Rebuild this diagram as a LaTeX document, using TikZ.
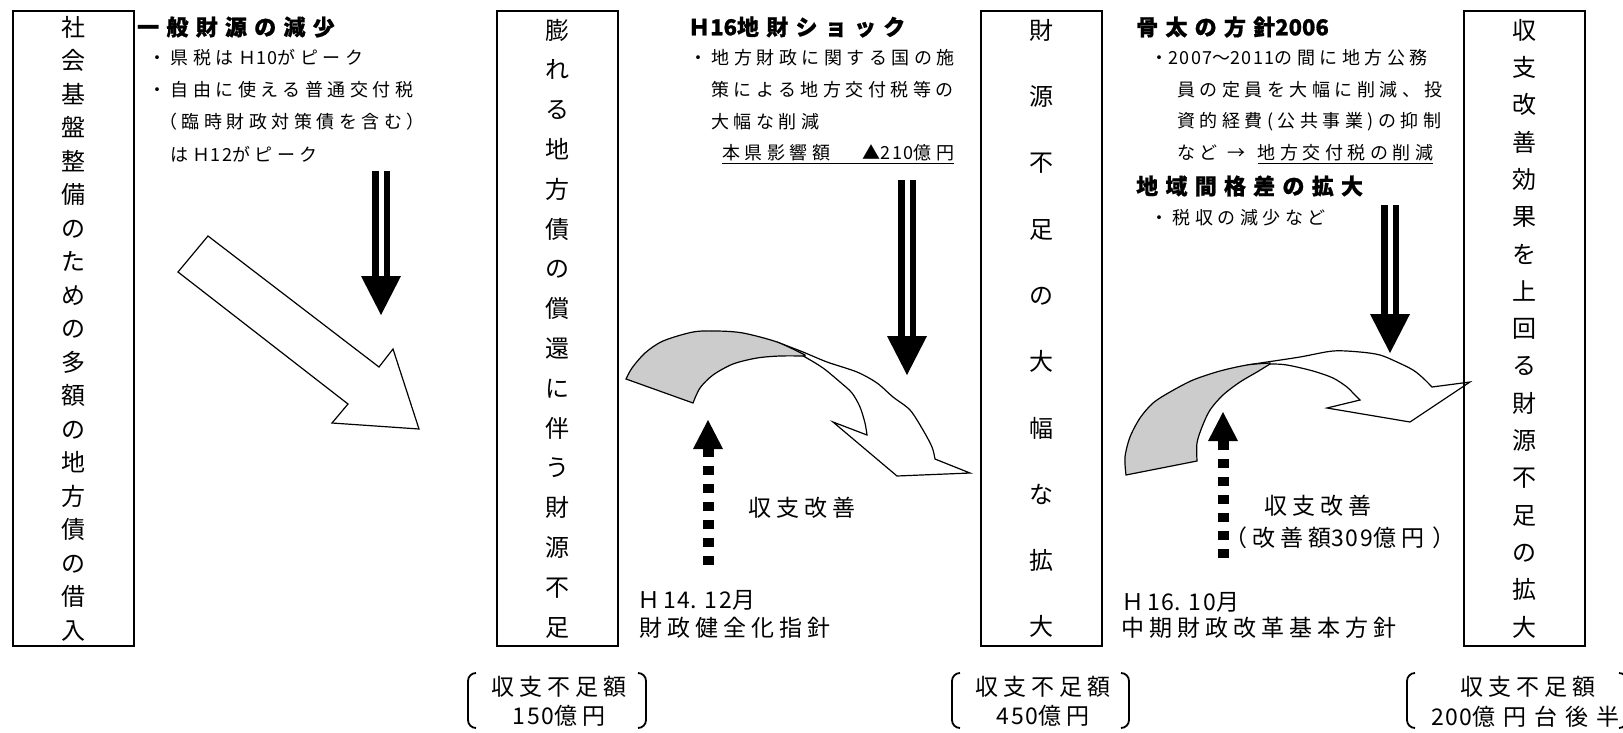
\documentclass[tikz,border=0pt]{standalone}
\usepackage{fontspec}
\setmainfont{Noto Sans CJK JP}
\newcommand\bodyf{\fontsize{18}{22}\selectfont\addfontfeature{LetterSpace=25}}
\newcommand\headf{\fontsize{22}{26}\selectfont\bfseries\addfontfeature{LetterSpace=33,FakeBold=0.8}}
\newcommand\labf{\fontsize{23}{28}\selectfont\addfontfeature{LetterSpace=22}}
\newcommand\labwf{\fontsize{23}{28}\selectfont\addfontfeature{LetterSpace=35}}
\newcommand\dg[1]{{\addfontfeature{LetterSpace=0}#1}}
\newcommand\dgl[1]{{\addfontfeature{LetterSpace=8}#1}}
\newcommand\myul[1]{\setbox0\hbox{#1}\rlap{\rule[-5pt]{\wd0}{1.5pt}}\box0}
\newcommand\dblarrow[3]{%
  \fill (#1-9.2,#2) rectangle (#1-2.5,#3-38);
  \fill (#1+2.5,#2) rectangle (#1+9.2,#3-38);
  \fill (#1-20,#3-39) -- (#1+20,#3-39) -- (#1,#3) -- cycle;}
\newcommand\brL[1]{\draw[bracket] (#1+8,673) -- (#1,673) -- (#1,728) -- (#1+8,728);}
\newcommand\brR[1]{\draw[bracket] (#1-8,673) -- (#1,673) -- (#1,728) -- (#1-8,728);}
\begin{document}
\begin{tikzpicture}[x=1pt,y=-1pt,
  vbox/.style={draw, line width=2pt, minimum width=121pt, minimum height=635pt,
    inner sep=0pt, align=center, anchor=north west},
  txt/.style={anchor=west, inner sep=0pt, font=\bodyf},
  hd/.style={anchor=west, inner sep=0pt, font=\headf},
  lab/.style={anchor=west, inner sep=0pt, font=\labf},
  hollow/.style={draw, fill=white, line width=1.2pt, line join=miter},
  band/.style={draw, fill=black!20, line width=1.2pt},
  dots/.style={line width=11pt, dash pattern=on 9pt off 9pt},
  bracket/.style={line width=1.8pt, rounded corners=8pt}]
\useasboundingbox (0,0) rectangle (1623,732);

% ---- section 1 hollow arrow
\draw[hollow] (208,236) -- (178,272) -- (348,404) -- (332,423) -- (419,429) -- (393,349) -- (379,367) -- cycle;

% ---- section 2 curved arrow
\draw[hollow] plot[smooth] coordinates {(777,342) (803,352) (827,362) (857,372) (877,383) (893,397) (910,410) (923,430) (932,447) (935,459)}
  -- (970,473) -- (897,476) -- (833,422) -- (867,435)
  -- plot[smooth] coordinates {(867,435) (865,423) (860,407) (852,393) (840,382) (823,368) (805,357) (777,342)} -- cycle;
\draw[band] plot[smooth] coordinates {(626,379) (632,368) (645,353) (663,341) (693,332) (717,331) (743,333) (777,342) (805,355)}
  -- plot[smooth] coordinates {(805,356) (780,356) (757,358) (733,364) (713,375) (700,388) (693,403)} -- cycle;

% ---- section 3 curved arrow
\draw[hollow] plot[smooth] coordinates {(1247,365) (1267,362) (1300,357) (1333,351) (1360,352) (1380,355) (1397,362) (1413,370) (1423,378) (1432,387)}
  -- (1470,382) -- (1410,422) -- (1327,408) -- (1360,400)
  -- plot[smooth] coordinates {(1360,400) (1353,393) (1347,387) (1333,378) (1313,371) (1287,365) (1270,364) (1247,365)} -- cycle;
\draw[band] plot[smooth] coordinates {(1126,475) (1125,457) (1130,437) (1140,418) (1153,403) (1170,392) (1193,380) (1220,371) (1247,365) (1270,363)}
  -- plot[smooth] coordinates {(1270,364) (1257,372) (1240,382) (1223,395) (1210,410) (1202,427) (1197,443) (1197,461)} -- cycle;

% ---- double arrows
\dblarrow{381}{171}{315}
\dblarrow{907}{180}{375}
\dblarrow{1390}{205}{353}

% ---- dotted arrows
\coordinate (p1s) at (708,565); \coordinate (p1e) at (708,448);
\draw[dots] (p1s) -- (p1e);
\fill (693,449) -- (723,449) -- (708,420) -- cycle;
\coordinate (p2s) at (1223,558); \coordinate (p2e) at (1223,440);
\draw[dots] (p2s) -- (p2e);
\fill (1208,441) -- (1238,441) -- (1223,412) -- cycle;

% ---- boxes
\node[vbox, font=\fontsize{24}{33.5}\selectfont] (B1) at (12,10) {社\\会\\基\\盤\\整\\備\\の\\た\\め\\の\\多\\額\\の\\地\\方\\債\\の\\借\\入};
\node[vbox, font=\fontsize{24}{39.8}\selectfont] (B2) at (496,10) {膨\\れ\\る\\地\\方\\債\\の\\償\\還\\に\\伴\\う\\財\\源\\不\\足};
\node[vbox, font=\fontsize{24}{66.3}\selectfont] (B3) at (980,10) {財\\源\\不\\足\\の\\大\\幅\\な\\拡\\大};
\node[vbox, font=\fontsize{24}{37.3}\selectfont] (B4) at (1463,10) {収\\支\\改\\善\\効\\果\\を\\上\\回\\る\\財\\源\\不\\足\\の\\拡\\大};

% ---- section 1 text
\node[hd] (h1) at (137,27) {一般財源の減少};
\node[txt] (s1a) at (148,58) {・県税はＨ\dgl{10}がピーク};
\node[txt] (s1b) at (148,90) {・自由に使える普通交付税};
\node[txt] (s1c) at (159,122) {（臨時財政対策債を含む）};
\node[txt] (s1d) at (170,154) {はＨ\dgl{12}がピーク};

% ---- section 2 text
\node[hd] (h2) at (688,27) {Ｈ\dg{16}地財ショック};
\node[txt] (s2a) at (689,58) {・地方財政に関する国の施};
\node[txt] (s2b) at (711,90) {策による地方交付税等の};
\node[txt] (s2c) at (711,122) {大幅な削減};
\node[txt] (s2d) at (722,154) {\myul{本県影響額　\hspace{10pt}▲\dgl{210}億円}};
\node[lab] (k1) at (748,508) {収支改善};
\node[lab] (d1) at (637,600) {Ｈ\hspace{3pt}\dgl{14}.\hspace{8pt}\dgl{12}月};
\node[lab] (g1) at (639,628) {財政健全化指針};

% ---- section 3 text
\node[hd] (h3) at (1136,27) {骨太の方針\dg{2006}};
\node[txt] (s3a) at (1150,58) {・\dgl{2007}～\dgl{2011}の間に地方公務};
\node[txt] (s3b) at (1177,90) {員の定員を大幅に削減、投};
\node[txt] (s3c) at (1177,122) {資的経費(公共事業)の抑制};
\node[txt] (s3d) at (1177,154) {など\hspace{10pt}→\hspace{12pt}\myul{地方交付税の削減}};
\node[hd] (h4) at (1136,186) {地域間格差の拡大};
\node[txt] (s3e) at (1150,218) {・税収の減少など};
\node[lab] (k2) at (1264,506) {収支改善};
\node[lab] (k3) at (1224,538) {（改善額\dgl{309}億円\hspace{8pt}）};
\node[lab] (d2) at (1121,602) {Ｈ\hspace{3pt}\dgl{16}.\hspace{8pt}\dgl{10}月};
\node[lab] (g2) at (1121,628) {中期財政改革基本方針};

% ---- bottom brackets
\brL{468} \brR{646}
\node[lab, anchor=center] (b1a) at (559,687) {収支不足額};
\node[lab, anchor=center] (b1b) at (559,716) {\dgl{150}億円};
\brL{952} \brR{1129}
\node[lab, anchor=center] (b2a) at (1043,687) {収支不足額};
\node[lab, anchor=center] (b2b) at (1043,716) {\dgl{450}億円};
\brL{1407} \brR{1627}
\node[lab, anchor=center] (b3a) at (1528,687) {収支不足額};
\node[anchor=west, inner sep=0pt, font=\labwf] (b3b) at (1431,717) {{\addfontfeature{LetterSpace=7}200}億円台後半};
\end{tikzpicture}
\end{document}
